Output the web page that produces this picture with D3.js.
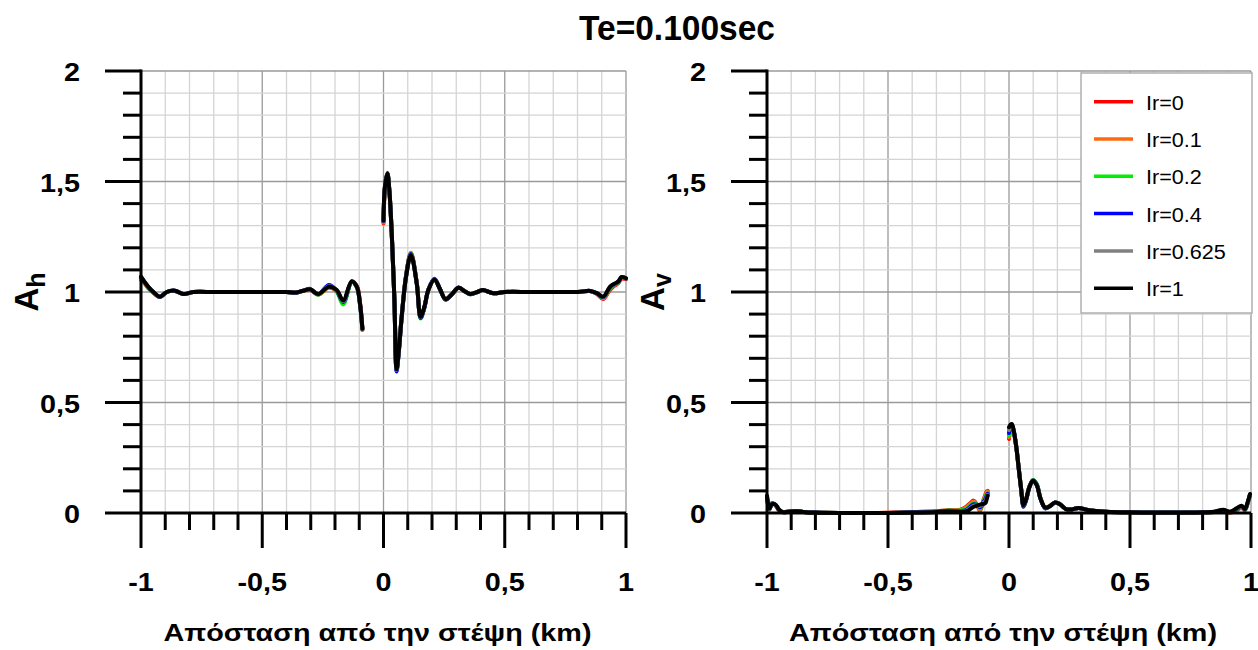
<!DOCTYPE html>
<html>
<head>
<meta charset="utf-8">
<script src="https://cdn.jsdelivr.net/npm/d3@7"></script>
<style>
  html, body { margin: 0; padding: 0; background: #fff; }
  svg { display: block; font-family: "Liberation Sans", Arial, sans-serif; }
</style>
</head>
<body>
<svg id="chart" width="1258" height="650"></svg>
<script>
// ---- data ----------------------------------------------------------------
const chartTitle = "Te=0.100sec";
const xTitle = "Απόσταση από την στέψη (km)";
const seriesNames = ["Ir=0", "Ir=0.1", "Ir=0.2", "Ir=0.4", "Ir=0.625", "Ir=1"];
const seriesColors = ["#ff0000", "#ff6a10", "#00ee00", "#0000ff", "#808080", "#000000"];
const xTickValues = [-1, -0.5, 0, 0.5, 1];
const xTickLabels = ["-1", "-0,5", "0", "0,5", "1"];
const yTickValues = [0, 0.5, 1, 1.5, 2];
const yTickLabels = ["0", "0,5", "1", "1,5", "2"];

// Horizontal amplification Ah: segment before the crest and after it
const ahLeftX = [-1, -0.986, -0.97, -0.95, -0.922, -0.894, -0.86, -0.826, -0.784, -0.7, -0.6, -0.5, -0.4, -0.36, -0.331, -0.303, -0.269, -0.225, -0.193, -0.166, -0.131, -0.11, -0.097, -0.087];
const ahLeftY = [
  [1.055, 1.040, 1.018, 0.998, 0.977, 0.999, 1.005, 0.991, 1.000, 1.000, 1.000, 1.000, 1.000, 0.997, 1.005, 1.011, 0.989, 1.020, 1.004, 0.955, 1.046, 1.027, 0.954, 0.829],
  [1.058, 1.041, 1.019, 0.998, 0.977, 0.999, 1.005, 0.991, 1.000, 1.000, 1.000, 1.000, 1.000, 0.997, 1.005, 1.011, 0.989, 1.022, 1.004, 0.952, 1.046, 1.026, 0.952, 0.830],
  [1.062, 1.043, 1.020, 0.999, 0.978, 1.000, 1.005, 0.991, 1.000, 1.000, 1.000, 1.000, 1.000, 0.997, 1.005, 1.012, 0.988, 1.028, 1.002, 0.944, 1.045, 1.022, 0.944, 0.831],
  [1.066, 1.045, 1.022, 1.000, 0.978, 1.000, 1.006, 0.991, 1.000, 1.000, 1.000, 1.000, 1.000, 0.997, 1.006, 1.014, 0.990, 1.032, 1.006, 0.955, 1.046, 1.022, 0.944, 0.832],
  [1.068, 1.046, 1.023, 1.000, 0.979, 1.000, 1.006, 0.991, 1.000, 1.000, 1.000, 1.000, 1.000, 0.998, 1.006, 1.013, 0.991, 1.026, 1.008, 0.958, 1.048, 1.023, 0.947, 0.833],
  [1.069, 1.047, 1.024, 1.001, 0.979, 1.000, 1.006, 0.991, 1.000, 1.000, 1.000, 1.000, 1.000, 0.998, 1.006, 1.012, 0.991, 1.024, 1.009, 0.962, 1.049, 1.024, 0.949, 0.834]
];
const ahRightX = [0.000, 0.006, 0.016, 0.024, 0.034, 0.045, 0.054, 0.062, 0.075, 0.093, 0.113, 0.137, 0.153, 0.168, 0.185, 0.210, 0.232, 0.256, 0.282, 0.309, 0.333, 0.357, 0.383, 0.409, 0.453, 0.500, 0.600, 0.700, 0.800, 0.852, 0.880, 0.906, 0.934, 0.955, 0.968, 0.982, 1.000];
const ahRightY = [
  [1.310, 1.472, 1.535, 1.460, 1.264, 0.963, 0.650, 0.721, 0.889, 1.073, 1.176, 1.043, 0.886, 0.929, 1.009, 1.056, 1.015, 0.968, 0.990, 1.019, 1.005, 0.991, 0.998, 1.009, 0.994, 1.000, 1.000, 1.000, 1.000, 1.004, 0.991, 0.968, 1.010, 1.030, 1.040, 1.060, 1.058],
  [1.314, 1.474, 1.536, 1.461, 1.265, 0.962, 0.649, 0.720, 0.889, 1.074, 1.178, 1.043, 0.885, 0.928, 1.009, 1.057, 1.015, 0.967, 0.990, 1.019, 1.005, 0.991, 0.998, 1.009, 0.994, 1.000, 1.000, 1.000, 1.000, 1.004, 0.992, 0.972, 1.014, 1.033, 1.042, 1.063, 1.060],
  [1.318, 1.478, 1.540, 1.462, 1.264, 0.960, 0.645, 0.716, 0.886, 1.072, 1.174, 1.041, 0.880, 0.926, 1.010, 1.058, 1.016, 0.966, 0.990, 1.019, 1.005, 0.990, 0.998, 1.009, 0.994, 1.000, 1.000, 1.000, 1.000, 1.004, 0.993, 0.975, 1.018, 1.036, 1.044, 1.065, 1.061],
  [1.320, 1.475, 1.535, 1.460, 1.263, 0.958, 0.640, 0.714, 0.885, 1.071, 1.172, 1.041, 0.882, 0.927, 1.011, 1.060, 1.016, 0.965, 0.990, 1.020, 1.005, 0.990, 0.998, 1.009, 0.994, 1.000, 1.000, 1.000, 1.000, 1.005, 0.994, 0.977, 1.020, 1.037, 1.045, 1.066, 1.061],
  [1.322, 1.476, 1.536, 1.461, 1.265, 0.962, 0.647, 0.718, 0.887, 1.070, 1.169, 1.040, 0.886, 0.929, 1.010, 1.058, 1.015, 0.967, 0.990, 1.019, 1.005, 0.991, 0.998, 1.009, 0.994, 1.000, 1.000, 1.000, 1.000, 1.005, 0.994, 0.978, 1.022, 1.038, 1.046, 1.067, 1.062],
  [1.323, 1.477, 1.537, 1.462, 1.266, 0.964, 0.650, 0.720, 0.888, 1.069, 1.167, 1.039, 0.888, 0.930, 1.009, 1.057, 1.015, 0.968, 0.990, 1.019, 1.005, 0.991, 0.998, 1.009, 0.994, 1.000, 1.000, 1.000, 1.000, 1.005, 0.995, 0.979, 1.024, 1.039, 1.047, 1.068, 1.062]
];

// Vertical amplification Av
const avLeftX = [-1, -0.99, -0.98, -0.965, -0.95, -0.935, -0.91, -0.88, -0.85, -0.8, -0.7, -0.6, -0.5, -0.4, -0.3, -0.25, -0.2, -0.175, -0.16, -0.146, -0.133, -0.12, -0.105, -0.097, -0.092, -0.088];
const avLeftY = [
  [0.065, 0.015, 0.045, 0.035, 0.012, 0.005, 0.007, 0.008, 0.005, 0.002, 0.000, 0.000, 0.001, 0.004, 0.008, 0.012, 0.015, 0.030, 0.045, 0.056, 0.040, 0.010, 0.060, 0.085, 0.098, 0.100],
  [0.067, 0.016, 0.044, 0.035, 0.012, 0.005, 0.007, 0.008, 0.005, 0.002, 0.000, 0.000, 0.001, 0.004, 0.008, 0.012, 0.013, 0.026, 0.040, 0.052, 0.039, 0.014, 0.058, 0.080, 0.094, 0.097],
  [0.070, 0.017, 0.043, 0.036, 0.013, 0.005, 0.007, 0.008, 0.005, 0.002, 0.000, 0.000, 0.000, 0.003, 0.007, 0.011, 0.011, 0.020, 0.034, 0.046, 0.037, 0.020, 0.054, 0.072, 0.086, 0.092],
  [0.073, 0.018, 0.042, 0.037, 0.013, 0.004, 0.006, 0.008, 0.005, 0.002, 0.000, 0.000, 0.000, 0.003, 0.006, 0.010, 0.009, 0.015, 0.028, 0.040, 0.036, 0.026, 0.050, 0.064, 0.078, 0.087],
  [0.076, 0.019, 0.041, 0.038, 0.014, 0.004, 0.006, 0.008, 0.005, 0.002, 0.000, 0.000, 0.000, 0.002, 0.005, 0.009, 0.007, 0.011, 0.022, 0.033, 0.034, 0.032, 0.045, 0.055, 0.070, 0.082],
  [0.078, 0.020, 0.040, 0.038, 0.015, 0.004, 0.006, 0.008, 0.005, 0.002, 0.000, 0.000, 0.000, 0.002, 0.005, 0.008, 0.005, 0.008, 0.018, 0.028, 0.033, 0.038, 0.041, 0.045, 0.063, 0.078]
];
const avRightX = [0.000, 0.006, 0.012, 0.020, 0.030, 0.039, 0.050, 0.060, 0.070, 0.085, 0.099, 0.115, 0.130, 0.150, 0.170, 0.191, 0.212, 0.235, 0.260, 0.287, 0.320, 0.349, 0.400, 0.500, 0.600, 0.700, 0.800, 0.850, 0.885, 0.913, 0.940, 0.961, 0.975, 0.986, 0.996];
const avRightY = [
  [0.335, 0.380, 0.394, 0.367, 0.300, 0.215, 0.111, 0.034, 0.060, 0.121, 0.148, 0.127, 0.066, 0.024, 0.032, 0.048, 0.038, 0.018, 0.016, 0.023, 0.015, 0.010, 0.006, 0.003, 0.002, 0.002, 0.003, 0.005, 0.010, 0.001, 0.012, 0.024, 0.013, 0.043, 0.081],
  [0.343, 0.382, 0.395, 0.367, 0.300, 0.215, 0.111, 0.033, 0.059, 0.121, 0.148, 0.128, 0.067, 0.024, 0.032, 0.048, 0.039, 0.018, 0.016, 0.023, 0.015, 0.010, 0.006, 0.003, 0.002, 0.002, 0.003, 0.005, 0.011, 0.002, 0.013, 0.025, 0.014, 0.044, 0.082],
  [0.352, 0.386, 0.396, 0.368, 0.301, 0.216, 0.112, 0.030, 0.056, 0.120, 0.149, 0.130, 0.068, 0.022, 0.031, 0.049, 0.040, 0.019, 0.016, 0.023, 0.015, 0.010, 0.006, 0.003, 0.002, 0.002, 0.003, 0.005, 0.012, 0.003, 0.015, 0.027, 0.015, 0.045, 0.083],
  [0.362, 0.390, 0.398, 0.368, 0.300, 0.213, 0.108, 0.028, 0.055, 0.118, 0.147, 0.128, 0.066, 0.021, 0.031, 0.048, 0.039, 0.018, 0.016, 0.023, 0.015, 0.010, 0.006, 0.003, 0.002, 0.002, 0.003, 0.006, 0.013, 0.004, 0.017, 0.029, 0.016, 0.046, 0.084],
  [0.375, 0.396, 0.401, 0.369, 0.300, 0.214, 0.110, 0.034, 0.060, 0.121, 0.147, 0.126, 0.065, 0.023, 0.032, 0.048, 0.038, 0.018, 0.016, 0.023, 0.015, 0.010, 0.006, 0.003, 0.002, 0.002, 0.003, 0.006, 0.014, 0.005, 0.019, 0.031, 0.017, 0.047, 0.085],
  [0.388, 0.400, 0.403, 0.370, 0.300, 0.214, 0.110, 0.035, 0.060, 0.120, 0.146, 0.125, 0.065, 0.024, 0.032, 0.048, 0.038, 0.018, 0.016, 0.023, 0.015, 0.010, 0.006, 0.003, 0.002, 0.002, 0.003, 0.006, 0.015, 0.006, 0.021, 0.033, 0.018, 0.048, 0.086]
];

// ---- drawing ---------------------------------------------------------------
const svg = d3.select("#chart");
const plotTop = 71, plotBottom = 513;

// widen a text element by a factor (the glyphs in this figure are drawn wide)
function stretch(sel, k) {
  sel.each(function () {
    const w = this.getComputedTextLength();
    d3.select(this).attr("textLength", w * k).attr("lengthAdjust", "spacingAndGlyphs");
  });
}

svg.append("text")
  .attr("x", 677).attr("y", 27)
  .attr("text-anchor", "middle").attr("dominant-baseline", "central")
  .attr("font-size", 35).attr("font-weight", "bold")
  .attr("textLength", 196).attr("lengthAdjust", "spacingAndGlyphs")
  .text(chartTitle);

function drawPanel(opts) {
  const g = svg.append("g");
  const x = d3.scaleLinear().domain([-1, 1]).range([opts.left, opts.right]);
  const y = d3.scaleLinear().domain([0, 2]).range([plotBottom, plotTop]);

  const minorX = d3.range(-10, 11).map(i => i / 10);
  const minorY = d3.range(0, 21).map(i => i / 10);
  const isMajor = v => Math.abs(v * 2 - Math.round(v * 2)) < 1e-9;

  // grid
  const grid = g.append("g");
  grid.selectAll("line.gx").data(minorX).join("line")
    .attr("x1", d => x(d)).attr("x2", d => x(d))
    .attr("y1", plotTop).attr("y2", plotBottom)
    .attr("stroke", d => isMajor(d) ? "#9a9a9a" : "#d4d4d4")
    .attr("stroke-width", 1.3);
  grid.selectAll("line.gy").data(minorY).join("line")
    .attr("x1", opts.left).attr("x2", opts.right)
    .attr("y1", d => y(d)).attr("y2", d => y(d))
    .attr("stroke", d => isMajor(d) ? "#9a9a9a" : "#d4d4d4")
    .attr("stroke-width", 1.3);

  // curves, lightest series first so Ir=1 ends on top
  const line = d3.line().x(d => x(d[0])).y(d => y(d[1])).curve(d3.curveCatmullRom.alpha(0.5));
  const curves = g.append("g").attr("fill", "none").attr("stroke-width", 4)
    .attr("stroke-linejoin", "round").attr("stroke-linecap", "round");
  seriesNames.forEach((name, i) => {
    [[opts.xa, opts.ya[i]], [opts.xb, opts.yb[i]]].forEach(([xs, ys]) => {
      curves.append("path")
        .datum(xs.map((v, j) => [v, ys[j]]))
        .attr("stroke", seriesColors[i])
        .attr("d", line);
    });
  });

  // axes
  const axes = g.append("g").attr("stroke", "#000").attr("stroke-width", 3);
  axes.selectAll("line.tx").data(minorX).join("line")
    .attr("x1", d => x(d)).attr("x2", d => x(d))
    .attr("y1", plotBottom).attr("y2", d => plotBottom + (isMajor(d) ? 35 : 17));
  axes.selectAll("line.ty").data(minorY).join("line")
    .attr("x1", d => opts.left - (isMajor(d) ? 36 : 18)).attr("x2", opts.left)
    .attr("y1", d => y(d)).attr("y2", d => y(d));
  axes.append("line").attr("x1", opts.left).attr("x2", opts.right)
    .attr("y1", plotBottom).attr("y2", plotBottom);
  axes.append("line").attr("x1", opts.left).attr("x2", opts.left)
    .attr("y1", plotTop - 1.5).attr("y2", plotBottom);

  // tick labels
  const xl = g.append("g").selectAll("text").data(xTickValues).join("text")
    .attr("x", d => x(d)).attr("y", 582)
    .attr("text-anchor", "middle").attr("dominant-baseline", "central")
    .attr("font-size", 25).attr("font-weight", "bold")
    .text((d, i) => xTickLabels[i]);
  stretch(xl, 1.15);
  const yl = g.append("g").selectAll("text").data(yTickValues).join("text")
    .attr("x", opts.left - 61).attr("y", d => y(d) + 1)
    .attr("text-anchor", "end").attr("dominant-baseline", "central")
    .attr("font-size", 25).attr("font-weight", "bold")
    .text((d, i) => yTickLabels[i]);
  stretch(yl, 1.15);

  // axis titles
  g.append("text")
    .attr("x", (opts.left + opts.right) / 2 - 6).attr("y", 633)
    .attr("text-anchor", "middle").attr("dominant-baseline", "central")
    .attr("font-size", 23).attr("font-weight", "bold")
    .attr("textLength", 428).attr("lengthAdjust", "spacingAndGlyphs")
    .text(xTitle);

  const yt = g.append("text")
    .attr("transform", `translate(${opts.left - 103},${(plotTop + plotBottom) / 2}) rotate(-90)`)
    .attr("text-anchor", "middle")
    .attr("font-weight", "bold");
  yt.append("tspan").attr("font-size", 33).text("A");
  yt.append("tspan").attr("font-size", 25).attr("dy", 7).text(opts.sub);

  return { g, x, y };
}

drawPanel({ left: 141, right: 626, sub: "h", xa: ahLeftX, ya: ahLeftY, xb: ahRightX, yb: ahRightY });
drawPanel({ left: 767, right: 1251, sub: "v", xa: avLeftX, ya: avLeftY, xb: avRightX, yb: avRightY });

// legend on the right panel
const legend = svg.append("g");
legend.append("rect")
  .attr("x", 1081).attr("y", 73).attr("width", 171).attr("height", 240)
  .attr("fill", "#fff").attr("stroke", "#b0b0b0").attr("stroke-width", 1.5);
const items = legend.selectAll("g.item").data(seriesNames).join("g")
  .attr("transform", (d, i) => `translate(0,${101.7 + i * 37.3})`);
items.append("line")
  .attr("x1", 1094).attr("x2", 1133)
  .attr("stroke", (d, i) => seriesColors[i]).attr("stroke-width", 3.5);
const lt = items.append("text")
  .attr("x", 1146).attr("y", 1)
  .attr("dominant-baseline", "central")
  .attr("font-size", 20)
  .text(d => d);
stretch(lt, 1.08);
</script>
</body>
</html>
